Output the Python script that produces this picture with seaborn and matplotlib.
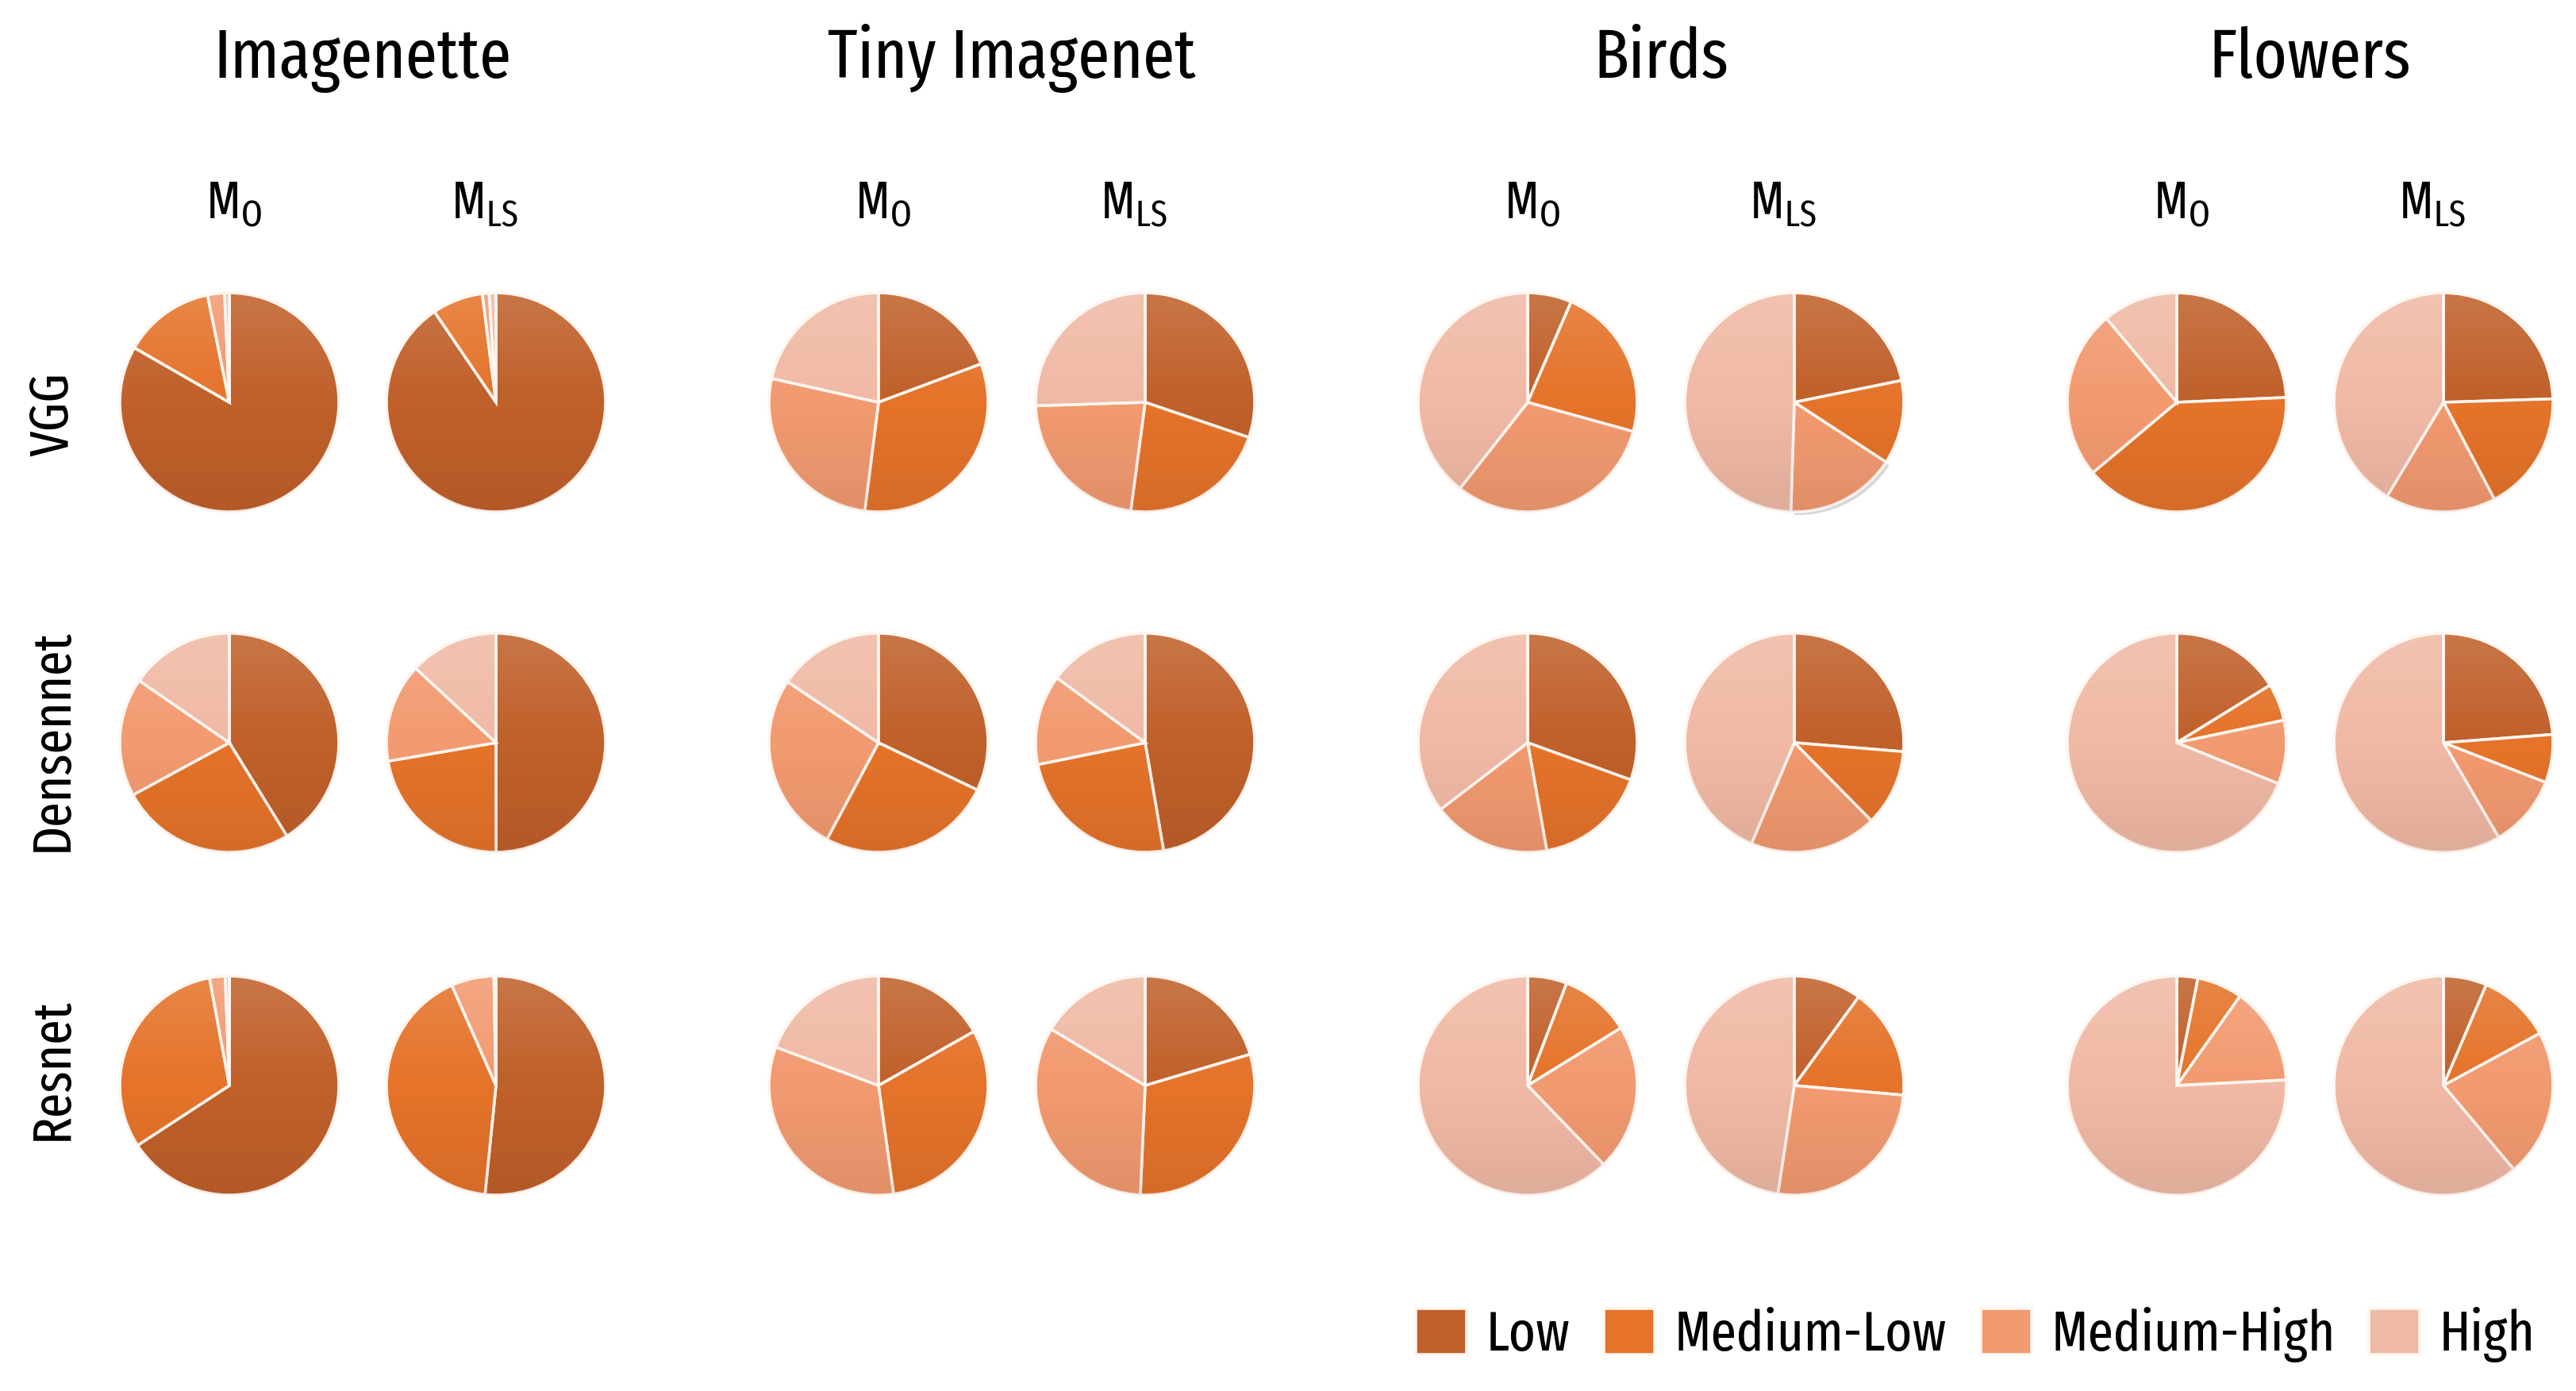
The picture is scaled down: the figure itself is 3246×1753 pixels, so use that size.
import matplotlib.patheffects as pe
import matplotlib.pyplot as plt
from matplotlib.patches import Circle
import numpy as np
import seaborn as sns


datasets = ['Imagenette', 'Tiny Imagenet', 'Birds', 'Flowers']
models = ['VGG', 'Densennet', 'Resnet']
variants = ['O', 'LS']
levels = ['Low', 'Medium-Low', 'Medium-High', 'High']

# shares of Low / Medium-Low / Medium-High / High, one row per dataset
vgg_o = [[0.833, 0.135, 0.025, 0.007],
         [0.193, 0.327, 0.265, 0.215],
         [0.065, 0.228, 0.313, 0.394],
         [0.243, 0.396, 0.250, 0.111]]
vgg_ls = [[0.905, 0.075, 0.010, 0.010],
          [0.302, 0.219, 0.224, 0.255],
          [0.218, 0.124, 0.163, 0.495],
          [0.245, 0.178, 0.163, 0.414]]
dense_o = [[0.412, 0.259, 0.175, 0.154],
           [0.321, 0.257, 0.266, 0.156],
           [0.305, 0.167, 0.174, 0.354],
           [0.162, 0.055, 0.094, 0.689]]
dense_ls = [[0.500, 0.223, 0.146, 0.131],
            [0.473, 0.245, 0.133, 0.149],
            [0.263, 0.113, 0.188, 0.436],
            [0.238, 0.071, 0.107, 0.584]]
res_o = [[0.658, 0.313, 0.023, 0.006],
         [0.168, 0.310, 0.329, 0.193],
         [0.058, 0.104, 0.216, 0.622],
         [0.031, 0.067, 0.144, 0.758]]
res_ls = [[0.516, 0.418, 0.063, 0.003],
          [0.204, 0.303, 0.329, 0.164],
          [0.100, 0.164, 0.260, 0.476],
          [0.064, 0.107, 0.218, 0.611]]

shares = {
    ('VGG', 'O'): vgg_o, ('VGG', 'LS'): vgg_ls,
    ('Densennet', 'O'): dense_o, ('Densennet', 'LS'): dense_ls,
    ('Resnet', 'O'): res_o, ('Resnet', 'LS'): res_ls,
}

sns.set_theme(style='white')
plt.rcParams['font.family'] = ['Fira Sans Extra Condensed', 'DejaVu Sans']
plt.rcParams['text.color'] = 'black'

palette = sns.color_palette(['#C0602A', '#E5732A', '#F29A70', '#F0B9A5'])

W, H = 3246, 1753
fig = plt.figure(figsize=(W / 100, H / 100), dpi=100)
fig.patch.set_facecolor('white')
ax = fig.add_axes([0, 0, 1, 1])

# layout in pixels (y measured from the top of the image)
pair_x = 457 + 818 * np.arange(len(datasets))
pair_gap = 168
row_y = [507, 936, 1368]
label_y = [522, 933, 1347]
radius = 138

# soft vertical shading like the original office-style pies
ramp = np.linspace(0, 1, 256)
grad = np.zeros((256, 1, 4))
top = ramp < 0.5
grad[top, 0, :3] = 1.0
grad[top, 0, 3] = 0.14 * (1 - ramp[top] / 0.5)
grad[~top, 0, 3] = 0.07 * ((ramp[~top] - 0.5) / 0.5)

legend_handles = None
for i, ds in enumerate(datasets):
    for j, var in enumerate(variants):
        cx = pair_x[i] + (2 * j - 1) * pair_gap
        for k, model in enumerate(models):
            cy = H - row_y[k]
            wedges, _ = ax.pie(
                shares[(model, var)][i], colors=palette, startangle=90,
                counterclock=False, center=(cx, cy), radius=radius,
                wedgeprops=dict(edgecolor='#FFF6F0', linewidth=2.6),
            )
            if legend_handles is None:
                legend_handles = wedges
            if (ds, model, var) == ('Birds', 'VGG', 'LS'):
                wedges[2].set_path_effects([
                    pe.SimplePatchShadow(offset=(3, -3), shadow_rgbFace='0.5',
                                         alpha=0.3),
                    pe.Normal(),
                ])
            im = ax.imshow(grad, extent=(cx - radius, cx + radius,
                                         cy - radius, cy + radius),
                           aspect='auto', interpolation='bilinear', zorder=3)
            im.set_clip_path(Circle((cx, cy), radius, transform=ax.transData))

        sub = r'$\mathregular{M_{%s}}$' % var
        ax.text(cx + (6 if var == 'O' else -14), H - 275, sub, ha='center',
                va='baseline', fontsize=48)
    ax.text(pair_x[i], H - 98, ds, ha='center', va='baseline', fontsize=63)

for k, model in enumerate(models):
    ax.text(66, H - label_y[k], model, rotation=90, ha='center', va='center',
            fontsize=50)

ax.set_xlim(0, W)
ax.set_ylim(0, H)
ax.set_aspect('auto')
ax.set_axis_off()

fig.legend(
    legend_handles, levels, ncol=4, loc='lower right',
    bbox_to_anchor=(0.995, 0.0), frameon=False, fontsize=51,
    handlelength=0.9, handleheight=0.9, handletextpad=0.35,
    columnspacing=0.6, borderpad=0.0,
)

plt.savefig('out.png', dpi=100, facecolor='white')
